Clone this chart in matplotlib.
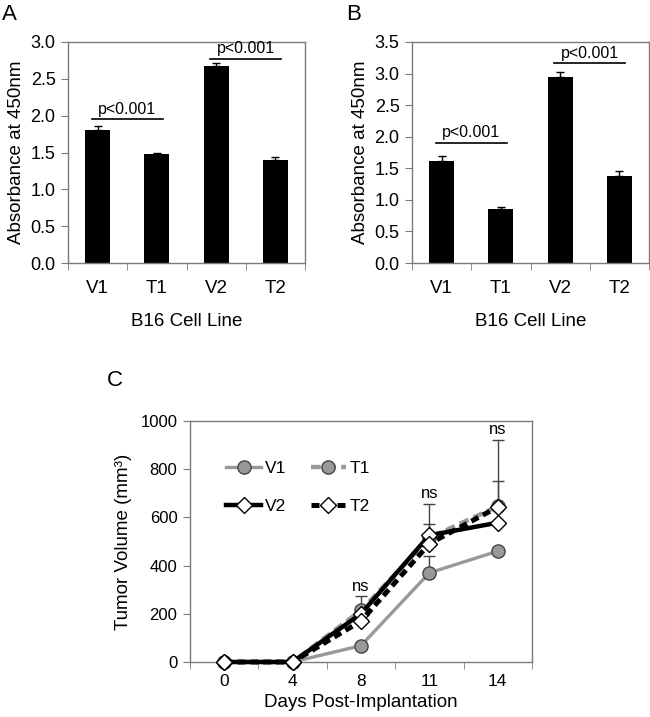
import matplotlib

matplotlib.use("Agg")

import matplotlib.pyplot as plt  # noqa: E402
import numpy as np  # noqa: E402

plt.rcParams["font.family"] = ["Liberation Sans", "DejaVu Sans"]

# bar panels A and B
groups = ["V1", "T1", "V2", "T2"]
abs_a = [1.80, 1.48, 2.68, 1.40]
err_a = [0.06, 0.02, 0.03, 0.04]
abs_b = [1.62, 0.85, 2.95, 1.38]
err_b = [0.07, 0.03, 0.08, 0.08]
p_label = "p<0.001"
brackets_a = [(0, 1, 1.95), (2, 3, 2.77)]
brackets_b = [(0, 1, 1.90), (2, 3, 3.16)]

# tumour growth panel C
days = ["0", "4", "8", "11", "14"]
vol_v1 = [0, 0, 68, 370, 460]
vol_t1 = [0, 0, 214, 515, 646]
vol_v2 = [0, 0, 200, 526, 578]
vol_t2 = [0, 0, 170, 491, 643]
err_v1 = [0, 0, 0, 70, 0]
err_t1 = [0, 0, 58, 139, 274]
err_v2 = [0, 0, 0, 45, 0]
err_t2 = [0, 0, 0, 0, 107]
ns_days = [2, 3, 4]

W, H = 650, 717
SPINE = "#7a7a7a"


def px_axes(fig, left, top, right, bottom):
    return fig.add_axes([left / W, 1 - bottom / H, (right - left) / W, (bottom - top) / H])


def style_axes(ax, n, xsize, ysize):
    for s in ax.spines.values():
        s.set_color(SPINE)
        s.set_linewidth(1)
    ax.set_xlim(-0.5, n - 0.5)
    ax.set_xticks(np.arange(n))
    ax.set_xticks(np.arange(n + 1) - 0.5, minor=True)
    ax.tick_params(axis="x", which="major", length=0, pad=12, labelsize=xsize)
    ax.tick_params(axis="x", which="minor", length=5, color=SPINE, direction="out")
    ax.tick_params(axis="y", length=5, color=SPINE, direction="out", labelsize=ysize, pad=4)


def bar_panel(ax, values, errs, ymax, brackets):
    x = np.arange(len(groups))
    ax.bar(x, values, width=0.42, color="black", zorder=2)
    ax.errorbar(x, values, yerr=[np.zeros(len(errs)), errs], fmt="none",
                ecolor="black", elinewidth=1, capsize=3, capthick=1, zorder=3)
    for i, j, y in brackets:
        ax.plot([i - 0.1, j + 0.1], [y, y], color="black", lw=1.2)
        ax.text((i + j) / 2, y + ymax * 0.012, p_label, ha="center", va="bottom", fontsize=11.5)
    style_axes(ax, len(groups), 13.5, 13)
    ax.set_xticklabels(groups)
    ax.set_ylim(0, ymax)
    ax.set_yticks(np.arange(0, ymax + 0.01, 0.5))
    ax.yaxis.set_major_formatter(matplotlib.ticker.FormatStrFormatter("%.1f"))
    ax.set_ylabel("Absorbance at 450nm", fontsize=13.5, labelpad=4)
    ax.set_xlabel("B16 Cell Line", fontsize=13.5, labelpad=12)


fig = plt.figure(figsize=(W / 100, H / 100), dpi=100)

ax_a = px_axes(fig, 68, 42, 305, 263)
bar_panel(ax_a, abs_a, err_a, 3.0, brackets_a)
fig.text(2 / W, 1 - 14 / H, "A", fontsize=16, va="center")

ax_b = px_axes(fig, 412, 42, 649, 263)
bar_panel(ax_b, abs_b, err_b, 3.5, brackets_b)
fig.text(346 / W, 1 - 14 / H, "B", fontsize=16, va="center")

ax_c = px_axes(fig, 190, 421, 532, 662)
x = np.arange(len(days))
series = [
    ("V1", vol_v1, err_v1, dict(color="#999999", lw=2.4, ls="-", marker="o", ms=9.5,
                                mfc="#999999", mec="#444444", mew=1)),
    ("T1", vol_t1, err_t1, dict(color="#999999", lw=3.2, ls=(0, (2.2, 1.2)), marker="o", ms=9.5,
                                mfc="#999999", mec="#444444", mew=1)),
    ("V2", vol_v2, err_v2, dict(color="black", lw=3.2, ls="-", marker="D", ms=8.5,
                                mfc="white", mec="black", mew=1)),
    ("T2", vol_t2, err_t2, dict(color="black", lw=3.6, ls=(0, (1.6, 1.0)), marker="D", ms=8.5,
                                mfc="white", mec="black", mew=1)),
]
handles = []
for k, (name, vals, errs, kw) in enumerate(series):
    ax_c.errorbar(x, vals, yerr=[np.zeros(len(errs)), errs], fmt="none", ecolor="#444444",
                  elinewidth=1, capsize=4, capthick=1, zorder=1 + k)
    (h,) = ax_c.plot(x, vals, label=name, zorder=2 + k, clip_on=False, **kw)
    handles.append(h)

tops = np.max([np.add(v, e) for _, v, e, _ in series], axis=0)
for d in ns_days:
    ax_c.text(d, tops[d] + 12, "ns", ha="center", va="bottom", fontsize=12)

style_axes(ax_c, len(days), 12.5, 12)
ax_c.set_xticklabels(days)
ax_c.tick_params(axis="x", which="major", pad=9)
ax_c.set_ylim(0, 1000)
ax_c.set_yticks(np.arange(0, 1001, 200))
ax_c.set_ylabel("Tumor Volume (mm³)", fontsize=13.5, labelpad=6)
ax_c.set_xlabel("Days Post-Implantation", fontsize=13.5, labelpad=3)
ax_c.legend(handles=[handles[0], handles[2], handles[1], handles[3]],
            labels=["V1", "V2", "T1", "T2"], ncol=2, frameon=False, fontsize=12.5,
            loc="upper left", bbox_to_anchor=(0.06, 0.90), handlelength=2.0,
            handletextpad=0.25, labelspacing=1.3, columnspacing=1.4)
fig.text(115 / W, 1 - 381 / H, "C", fontsize=16, va="center", ha="center")

fig.savefig("out.png", dpi=100)
